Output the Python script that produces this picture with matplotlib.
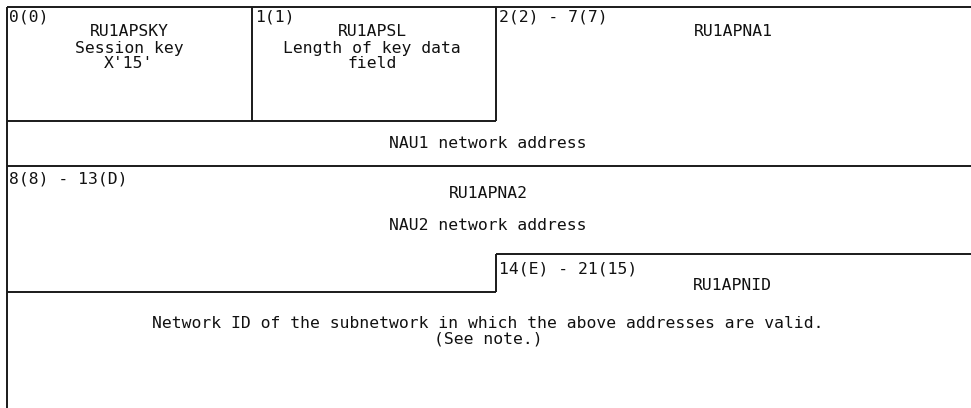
import matplotlib
matplotlib.use("Agg")
import matplotlib.pyplot as plt

# ---- content ----
offsets = ["0(0)", "1(1)", "2(2) - 7(7)", "8(8) - 13(D)", "14(E) - 21(15)"]
field_names = ["RU1APSKY", "RU1APSL", "RU1APNA1", "RU1APNA2", "RU1APNID"]
descriptions = [
    "Session key\nX'15'",
    "Length of key data\nfield",
    "NAU1 network address",
    "NAU2 network address",
    "Network ID of the subnetwork in which the above addresses are valid.\n(See note.)",
]

# ---- layout (pixel coordinates, origin top-left) ----
W, H = 971, 408
FONT = "DejaVu Sans Mono"
FS = 11.8
LC = "#1a1a1a"
LW = 1.4

fig = plt.figure(figsize=(W / 100, H / 100), dpi=100)
ax = fig.add_axes([0, 0, 1, 1])
ax.set_xlim(0, W)
ax.set_ylim(H, 0)
ax.axis("off")

x0, x1, x2, xr = 7, 252, 496, W
segments = [
    ((x0, 7), (xr, 7)),          # top
    ((x0, 7), (x0, H)),          # left
    ((x1, 7), (x1, 121)),
    ((x2, 7), (x2, 121)),
    ((x0, 121), (x2, 121)),
    ((x0, 166), (xr, 166)),
    ((x2, 254), (xr, 254)),
    ((x2, 254), (x2, 292)),
    ((x0, 292), (x2, 292)),
]
for (a, b) in segments:
    ax.plot([a[0], b[0]], [a[1], b[1]], color=LC, lw=LW, solid_capstyle="butt")

def t(x, y, s, ha="left"):
    # y is the visual centre of capital letters; place by baseline
    ax.text(x, y + 5.5, s, ha=ha, va="baseline", fontsize=FS, family=FONT,
            color="#111111")

# offsets
t(9, 16, offsets[0])
t(255, 16, offsets[1])
t(499, 16, offsets[2])
t(9, 178, offsets[3])
t(499, 268, offsets[4])

# field 0
d0 = descriptions[0].split("\n")
t(129, 31, field_names[0], "center")
t(129, 47, d0[0], "center")
t(129, 63, d0[1], "center")
# field 1
d1 = descriptions[1].split("\n")
t(372, 31, field_names[1], "center")
t(372, 47, d1[0], "center")
t(372, 63, d1[1], "center")
# field 2
t(733, 31, field_names[2], "center")
t(488, 143, descriptions[2], "center")
# field 3
t(488, 192, field_names[3], "center")
t(488, 224, descriptions[3], "center")
# field 4
t(732, 284, field_names[4], "center")
d4 = descriptions[4].split("\n")
t(488, 322, d4[0], "center")
t(488, 338, d4[1], "center")

fig.savefig("out.png", dpi=100, facecolor="white")
